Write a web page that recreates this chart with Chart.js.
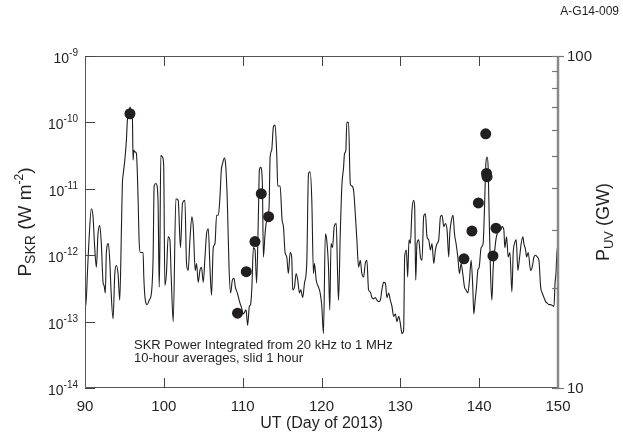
<!DOCTYPE html>
<html>
<head>
<meta charset="utf-8">
<script src="https://cdn.jsdelivr.net/npm/chart.js@4.4.1/dist/chart.umd.min.js"></script>
<style>
  html, body { margin: 0; padding: 0; background: #fff; }
</style>
</head>
<body>
<canvas id="grafico" width="623" height="445"></canvas>
<script>
// Potencia SKR (promedios de 10 h desplazados 1 h), eje izquierdo
const skrDia = [
  90.00, 90.09, 90.34, 90.51, 90.80, 91.02, 91.23, 91.44, 91.65, 91.87, 92.07, 92.29, 92.42, 92.58, 92.71, 92.96,
  93.14, 93.30, 93.56, 93.78, 93.98, 94.19, 94.41, 94.61, 94.74, 94.83, 95.05, 95.25, 95.38, 95.55, 95.72, 95.81,
  96.01, 96.10, 96.19, 96.32, 96.52, 96.74, 96.86, 97.03, 97.21, 97.37, 97.46, 97.63, 97.88, 98.14, 98.43, 98.64,
  98.77, 98.99, 99.15, 99.28, 99.41, 99.50, 99.62, 99.83, 99.98, 100.13, 100.33, 100.55, 100.77, 100.93, 101.19, 101.53,
  101.82, 102.11, 102.37, 102.67, 102.88, 103.09, 103.31, 103.56, 103.73, 103.98, 104.15, 104.36, 104.58, 104.78, 105.00, 105.22,
  105.42, 105.64, 105.85, 106.05, 106.27, 106.49, 106.69, 106.91, 107.12, 107.29, 107.45, 107.67, 107.83, 108.05, 108.27, 108.47,
  108.69, 108.90, 109.07, 109.32, 109.66, 109.87, 110.08, 110.43, 110.63, 110.85, 111.00, 111.17, 111.36, 111.57, 111.77, 111.99,
  112.12, 112.28, 112.50, 112.63, 112.84, 113.05, 113.35, 113.48, 113.68, 113.90, 114.11, 114.32, 114.45, 114.75, 115.00, 115.17,
  115.38, 115.59, 115.80, 116.02, 116.22, 116.35, 116.57, 116.78, 116.99, 117.20, 117.37, 117.62, 117.84, 118.13, 118.35, 118.56,
  118.77, 118.98, 119.11, 119.33, 119.62, 119.83, 120.04, 120.25, 120.49, 120.66, 120.89, 121.05, 121.21, 121.40, 121.61, 121.87,
  122.03, 122.16, 122.38, 122.58, 122.80, 122.92, 123.09, 123.21, 123.43, 123.65, 123.85, 124.07, 124.28, 124.49, 124.70, 124.92,
  125.12, 125.34, 125.55, 125.76, 125.97, 126.19, 126.39, 126.61, 126.83, 127.03, 127.24, 127.46, 127.66, 127.88, 128.10, 128.30,
  128.52, 128.73, 128.94, 129.15, 129.37, 129.57, 129.79, 130.00, 130.21, 130.42, 130.55, 130.77, 130.93, 131.10, 131.27, 131.48,
  131.69, 131.82, 131.95, 132.11, 132.33, 132.55, 132.75, 132.96, 133.18, 133.38, 133.60, 133.82, 134.02, 134.24, 134.45, 134.66,
  134.87, 135.09, 135.29, 135.51, 135.72, 135.93, 136.14, 136.27, 136.49, 136.69, 136.87, 137.07, 137.29, 137.50, 137.71, 137.92,
  138.14, 138.34, 138.56, 138.77, 138.98, 139.19, 139.32, 139.49, 139.66, 139.83, 140.00, 140.25, 140.50, 140.68, 140.85, 141.01,
  141.14, 141.27, 141.44, 141.61, 141.78, 141.95, 142.12, 142.28, 142.50, 142.71, 142.92, 143.13, 143.26, 143.48, 143.68, 143.90,
  144.15, 144.32, 144.49, 144.70, 144.91, 145.13, 145.33, 145.55, 145.67, 145.89, 146.02, 146.22, 146.53, 146.73, 146.95, 147.16,
  147.37, 147.58, 147.80, 148.00, 148.22, 148.43, 148.64, 148.85, 149.07, 149.27, 149.49, 149.62, 149.74, 149.91, 150.00,
];
const skrPotencia = [
  2.1e-13, 1.7e-13, 6.6e-13, 1.7e-12, 5.0e-12, 3.8e-12, 1.3e-12, 6.6e-13, 2.1e-12, 2.8e-12, 1.5e-12, 3.9e-13, 3.5e-13, 2.7e-13, 1.1e-12, 1.5e-12,
  8.4e-13, 3.0e-13, 1.1e-13, 5.3e-13, 7.0e-13, 5.3e-13, 2.1e-13, 2.1e-12, 1.2e-11, 1.6e-11, 2.7e-11, 5.4e-11, 1.1e-10, 1.4e-10, 1.7e-10, 1.5e-10,
  1.2e-10, 2.7e-11, 3.8e-11, 3.6e-11, 3.4e-11, 6.7e-12, 1.7e-12, 1.1e-12, 1.1e-12, 1.1e-12, 4.7e-13, 2.2e-13, 1.8e-13, 2.1e-13, 2.7e-13, 9.4e-13,
  1.1e-11, 1.2e-11, 1.1e-11, 5.3e-12, 3.3e-13, 1.3e-12, 3.2e-11, 3.0e-11, 2.3e-11, 3.5e-13, 5.3e-13, 1.9e-12, 1.7e-12, 5.0e-13, 1.0e-13, 7.1e-12,
  6.7e-12, 1.3e-12, 6.1e-12, 6.7e-12, 7.5e-13, 5.9e-13, 1.7e-12, 3.8e-12, 2.7e-12, 5.9e-13, 7.5e-13, 3.9e-13, 5.9e-13, 6.6e-13, 3.9e-13, 9.4e-13,
  2.1e-12, 2.5e-12, 6.6e-13, 2.5e-13, 1.3e-12, 1.5e-12, 4.0e-12, 4.0e-12, 7.5e-12, 1.9e-11, 2.4e-11, 2.9e-11, 2.4e-11, 6.7e-12, 6.6e-13, 2.7e-13,
  4.2e-13, 4.5e-13, 3.3e-13, 2.7e-13, 1.9e-13, 1.6e-13, 1.3e-13, 1.5e-13, 8.8e-14, 1.7e-13, 1.8e-13, 3.3e-13, 1.3e-12, 1.2e-12, 3.8e-13, 3.8e-12,
  1.9e-11, 2.1e-11, 1.2e-11, 9.4e-13, 2.1e-12, 3.4e-12, 5.3e-12, 3.0e-11, 3.8e-11, 8.6e-11, 9.1e-11, 3.4e-11, 1.1e-11, 1.1e-11, 3.4e-12, 2.7e-12,
  1.1e-12, 9.4e-13, 5.3e-13, 1.1e-12, 9.4e-13, 3.0e-13, 3.3e-13, 5.3e-13, 4.2e-13, 2.7e-13, 3.0e-13, 2.3e-13, 3.8e-13, 7.5e-13, 1.7e-11, 1.8e-11,
  6.7e-12, 5.3e-13, 7.5e-13, 4.2e-13, 3.3e-13, 2.7e-13, 1.7e-13, 6.6e-14, 2.1e-12, 1.7e-12, 6.6e-13, 1.5e-13, 1.5e-12, 1.3e-12, 2.7e-12, 3.0e-12,
  5.9e-13, 2.1e-13, 2.1e-12, 1.1e-11, 2.1e-11, 3.4e-11, 3.8e-11, 1.0e-10, 1.0e-10, 1.2e-11, 1.1e-11, 9.5e-12, 4.3e-12, 1.7e-12, 6.6e-13, 8.4e-13,
  5.3e-13, 4.7e-13, 7.5e-13, 8.4e-13, 3.0e-13, 2.8e-13, 2.3e-13, 2.2e-13, 2.3e-13, 2.1e-13, 2.0e-13, 2.1e-13, 3.0e-13, 3.9e-13, 3.8e-13, 2.3e-13,
  2.7e-13, 2.1e-13, 1.7e-13, 1.2e-13, 1.3e-13, 1.0e-13, 1.2e-13, 9.4e-14, 6.6e-14, 7.4e-14, 9.4e-13, 1.2e-12, 4.7e-13, 1.7e-12, 1.5e-12, 4.8e-12,
  6.7e-12, 5.3e-12, 4.2e-13, 1.5e-12, 1.7e-12, 9.4e-13, 8.4e-13, 3.8e-12, 4.2e-12, 1.9e-12, 1.7e-12, 1.2e-12, 1.5e-12, 7.5e-13, 1.2e-12, 1.5e-12,
  1.7e-12, 3.8e-12, 4.0e-12, 2.7e-12, 3.0e-12, 2.4e-12, 9.4e-13, 2.1e-12, 3.4e-12, 4.0e-12, 2.1e-12, 1.5e-12, 9.4e-13, 5.3e-13, 7.5e-13, 5.3e-13,
  3.3e-13, 3.0e-13, 2.7e-13, 4.2e-13, 8.4e-13, 3.3e-13, 1.3e-13, 2.1e-13, 3.3e-13, 5.9e-13, 6.6e-13, 1.3e-12, 1.5e-12, 5.3e-12, 2.4e-11, 3.0e-11,
  2.1e-11, 3.8e-12, 5.3e-13, 2.1e-13, 6.6e-13, 1.1e-12, 1.7e-12, 2.1e-12, 2.5e-12, 2.4e-12, 2.7e-12, 2.4e-12, 1.3e-12, 1.9e-12, 9.4e-13, 1.1e-12,
  2.8e-13, 1.1e-12, 1.5e-12, 1.7e-12, 5.9e-13, 9.4e-13, 1.5e-12, 1.9e-12, 1.5e-12, 1.2e-12, 9.4e-13, 1.1e-12, 5.9e-13, 6.6e-13, 9.4e-13, 1.0e-12,
  9.4e-13, 8.4e-13, 3.3e-13, 2.7e-13, 2.3e-13, 2.0e-13, 1.9e-13, 1.8e-13, 1.8e-13, 1.75e-13, 1.7e-13, 3.7e-13, 5.3e-13, 1.3e-12, 1.2e-12,
];

// Potencia UV (GW), eje derecho
const uvDia = [95.70, 109.35, 110.46, 111.56, 112.36, 113.29, 138.07, 139.08, 139.90, 140.83, 140.93, 141.00, 141.75, 142.13];
const uvPotencia = [67, 16.8, 22.4, 27.6, 38.5, 32.8, 24.5, 29.7, 36.1, 58.3, 44.3, 43.3, 25.0, 30.3];

const ticksDia = [90, 100, 110, 120, 130, 140, 150];
const ticksSkr = [1e-14, 1e-13, 1e-12, 1e-11, 1e-10, 1e-9];
const exponentesSkr = ["-14", "-13", "-12", "-11", "-10", "-9"];
const ticksUv = [10, 100];
const ticksUvMenores = [20, 30, 40, 50, 60, 70, 80, 90];

const FUENTE = "'Liberation Sans', Arial, Helvetica, sans-serif";
const COLOR_TEXTO = "#231f20";

function fuente(tamano) {
  return `${tamano}px ${FUENTE}`;
}

// dibuja texto con partes de distinto tamaño (subíndices / superíndices)
function dibujarCompuesto(ctx, partes, x, y, alineacion) {
  let ancho = 0;
  partes.forEach((p) => {
    ctx.font = fuente(p.tam);
    ancho += ctx.measureText(p.t).width;
  });
  let inicio = x;
  if (alineacion === "center") inicio = x - ancho / 2;
  if (alineacion === "right") inicio = x - ancho;
  ctx.textAlign = "left";
  ctx.textBaseline = "alphabetic";
  partes.forEach((p) => {
    ctx.font = fuente(p.tam);
    ctx.fillText(p.t, inicio, y + (p.dy || 0));
    inicio += ctx.measureText(p.t).width;
  });
}

const ejesPlugin = {
  id: "ejes",
  afterDraw(chart) {
    const { ctx, chartArea: area, scales } = chart;
    const { x, y, y2 } = scales;
    ctx.save();

    // marco
    ctx.strokeStyle = "#555";
    ctx.lineWidth = 1;
    ctx.beginPath();
    ctx.moveTo(area.right, area.top + 0.5);
    ctx.lineTo(area.left + 0.5, area.top + 0.5);
    ctx.lineTo(area.left + 0.5, area.bottom - 0.5);
    ctx.lineTo(area.right, area.bottom - 0.5);
    ctx.stroke();

    // eje derecho más grueso y gris
    ctx.strokeStyle = "#8a8a8a";
    ctx.lineWidth = 2.5;
    ctx.beginPath();
    ctx.moveTo(area.right, area.top);
    ctx.lineTo(area.right, area.bottom);
    ctx.stroke();

    // marcas eje x (abajo y arriba, hacia adentro)
    ctx.strokeStyle = "#444";
    ctx.lineWidth = 1;
    ticksDia.forEach((v) => {
      const px = Math.round(x.getPixelForValue(v)) + 0.5;
      if (v === 90 || v === 150) return;
      ctx.beginPath();
      ctx.moveTo(px, area.bottom);
      ctx.lineTo(px, area.bottom - 10);
      ctx.moveTo(px, area.top);
      ctx.lineTo(px, area.top + 10);
      ctx.stroke();
    });

    // marcas eje izquierdo
    ticksSkr.forEach((v) => {
      const py = Math.round(y.getPixelForValue(v)) + 0.5;
      ctx.beginPath();
      ctx.moveTo(area.left, py);
      ctx.lineTo(area.left + 10, py);
      ctx.stroke();
    });

    // marcas eje derecho
    ctx.strokeStyle = "#777";
    ctx.lineWidth = 1.2;
    ticksUvMenores.forEach((v) => {
      const py = Math.round(y2.getPixelForValue(v)) + 0.5;
      ctx.beginPath();
      ctx.moveTo(area.right, py);
      ctx.lineTo(area.right - 6, py);
      ctx.stroke();
    });
    ticksUv.forEach((v) => {
      const py = Math.round(y2.getPixelForValue(v)) + 0.5;
      ctx.beginPath();
      ctx.moveTo(area.right - 6, py);
      ctx.lineTo(area.right + 6, py);
      ctx.stroke();
    });

    ctx.fillStyle = COLOR_TEXTO;

    // etiquetas eje x
    ctx.font = fuente(15);
    ctx.textAlign = "center";
    ctx.textBaseline = "middle";
    ticksDia.forEach((v) => ctx.fillText(String(v), x.getPixelForValue(v), area.bottom + 19));

    // etiquetas eje izquierdo (10 elevado)
    ticksSkr.forEach((v, i) => {
      const py = y.getPixelForValue(v);
      dibujarCompuesto(ctx, [
        { t: "10", tam: 14, dy: 0 },
        { t: exponentesSkr[i], tam: 10, dy: -7 },
      ], area.left - 7, py + 7, "right");
    });

    // etiquetas eje derecho
    ctx.font = fuente(15);
    ctx.textAlign = "left";
    ctx.textBaseline = "middle";
    ticksUv.forEach((v) => ctx.fillText(String(v), area.right + 9, y2.getPixelForValue(v) + 1));

    // título eje x
    ctx.font = fuente(16);
    ctx.textAlign = "center";
    ctx.textBaseline = "middle";
    ctx.fillText("UT (Day of 2013)", (area.left + area.right) / 2, 424);

    // título eje izquierdo
    ctx.save();
    ctx.translate(31, 222);
    ctx.rotate(-Math.PI / 2);
    dibujarCompuesto(ctx, [
      { t: "P", tam: 19 },
      { t: "SKR", tam: 14, dy: 4 },
      { t: " (W m", tam: 19 },
      { t: "-2", tam: 12, dy: -8 },
      { t: ")", tam: 19 },
    ], 0, 0, "center");
    ctx.restore();

    // título eje derecho
    ctx.save();
    ctx.translate(609, 222);
    ctx.rotate(-Math.PI / 2);
    dibujarCompuesto(ctx, [
      { t: "P", tam: 18 },
      { t: "UV", tam: 13, dy: 4 },
      { t: " (GW)", tam: 18 },
    ], 0, 0, "center");
    ctx.restore();

    // notas
    ctx.font = fuente(13);
    ctx.textAlign = "left";
    ctx.textBaseline = "middle";
    ctx.fillText("SKR Power Integrated from 20 kHz to 1 MHz", 134, 345);
    ctx.fillText("10-hour averages, slid 1 hour", 134, 358);

    ctx.font = fuente(12);
    ctx.textAlign = "right";
    ctx.fillText("A-G14-009", 619, 12);

    ctx.restore();
  },
};

const puntosSkr = skrDia.map((d, i) => ({ x: d, y: skrPotencia[i] }));
const puntosUv = uvDia.map((d, i) => ({ x: d, y: uvPotencia[i] }));

new Chart(document.querySelector("#grafico"), {
  type: "line",
  data: {
    datasets: [
      { type: "scatter", label: "P UV", data: puntosUv, yAxisID: "y2", pointRadius: 5.5, pointBackgroundColor: "#231f20", pointBorderWidth: 0, showLine: false },
      { type: "line", label: "P SKR", data: puntosSkr, yAxisID: "y", borderColor: "#1e1e1e", borderWidth: 1.1, pointRadius: 0, cubicInterpolationMode: "monotone", fill: false },
    ],
  },
  options: {
    responsive: false,
    animation: false,
    devicePixelRatio: 1,
    layout: { padding: { left: 85, right: 65, top: 56, bottom: 57 } },
    plugins: { legend: { display: false }, tooltip: { enabled: false } },
    scales: {
      x: { type: "linear", min: 90, max: 150, display: false },
      y: { type: "logarithmic", min: 1e-14, max: 1e-9, display: false },
      y2: { type: "logarithmic", min: 10, max: 100, display: false, position: "right" },
    },
  },
  plugins: [ejesPlugin],
});
</script>
</body>
</html>
